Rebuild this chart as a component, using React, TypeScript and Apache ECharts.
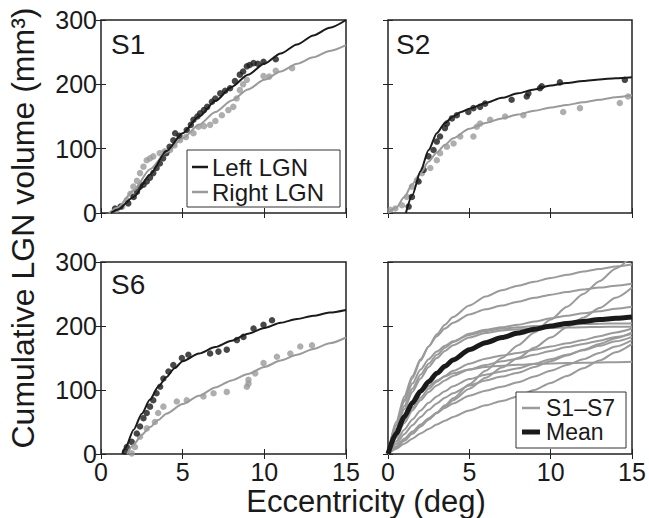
import React, { useEffect, useRef } from "react";
import * as echarts from "echarts";

const FONT = '"Liberation Sans", Arial, Helvetica, sans-serif';
const BLACK = "#1a1a1a";
const GRAY = "#9a9a9a";

// ---------- axis ticks ----------
const X_TICKS = [0, 5, 10, 15];
const Y_TICKS = [0, 100, 200, 300];

// ---------- S1 ----------
const s1LeftFit = [[0.6, 0], [1, 5], [2, 25], [3, 60], [4, 96], [5, 124], [6, 150], [7, 174], [8, 196], [9, 215], [10, 232], [11, 248], [12, 262], [13, 276], [14, 288], [15, 300]];
const s1RightFit = [[0.5, 0], [1, 8], [2, 35], [3, 68], [4, 94], [5, 116], [6, 137], [7, 157], [8, 175], [9, 192], [10, 207], [11, 220], [12, 232], [13, 242], [14, 252], [15, 261]];
const s1LeftPts = [[0.86, 7], [1.2, 10], [1.67, 15], [2.0, 25], [2.2, 33], [2.39, 41], [2.6, 44], [2.8, 49], [3.0, 55], [3.2, 62], [3.4, 70], [3.6, 77], [3.8, 85], [4.0, 93], [4.2, 103], [4.43, 113], [4.54, 124], [4.8, 120], [5.25, 129], [5.5, 137], [5.66, 145], [5.9, 150], [6.07, 155], [6.3, 160], [6.5, 165], [6.79, 173], [7.0, 178], [7.3, 186], [7.6, 190], [7.9, 194], [8.2, 205], [8.5, 215], [8.7, 220], [8.93, 228], [9.1, 230], [9.34, 233], [9.6, 232], [9.95, 235], [10.7, 239]];
const s1RightPts = [[0.96, 5], [1.3, 10], [1.58, 20], [1.8, 30], [1.98, 41], [2.2, 50], [2.39, 62], [2.6, 72], [2.8, 82], [3.0, 85], [3.2, 88], [3.6, 93], [3.9, 96], [4.23, 98], [4.5, 105], [4.84, 113], [5.2, 118], [5.66, 124], [5.97, 134], [6.3, 135], [6.68, 137], [7.0, 143], [7.4, 152], [7.8, 160], [8.1, 165], [8.3, 178], [8.5, 191], [8.7, 200], [8.93, 207], [9.95, 213], [10.3, 212], [10.7, 221], [11.7, 225]];

// ---------- S2 ----------
const s2LeftFit = [[1.1, 0], [1.5, 28], [2, 65], [2.5, 98], [3, 124], [3.5, 140], [4, 150], [4.5, 157], [5, 162], [6, 171], [7, 179], [8, 186], [9, 192], [10, 198], [11, 202], [12, 205], [13, 207.5], [14, 209.5], [15, 211]];
const s2RightFit = [[0, 0], [0.5, 8], [1, 25], [1.5, 45], [2, 62], [2.5, 80], [3, 94], [3.5, 106], [4, 116], [5, 131], [6, 140], [7, 147], [8, 153], [9, 159], [10, 164], [11, 168], [12, 172], [13, 176], [14, 180], [15, 183]];
const s2LeftPts = [[1.27, 10], [1.47, 25], [1.88, 49], [2.19, 67], [2.49, 88], [2.8, 98], [3.0, 111], [3.2, 119], [3.5, 132], [3.62, 139], [3.93, 147], [4.23, 152], [4.94, 157], [5.25, 163], [5.66, 165], [5.97, 170], [7.6, 176], [8.53, 181], [8.63, 186], [9.34, 194], [9.45, 197], [10.57, 203], [14.56, 207]];
const s2RightPts = [[0.14, 5], [0.45, 7], [0.86, 12], [1.16, 25], [1.47, 41], [1.78, 51], [2.09, 62], [2.6, 70], [3.0, 82], [3.2, 93], [3.62, 103], [4.03, 108], [4.44, 119], [5.25, 119], [5.46, 134], [5.66, 139], [6.28, 145], [7.2, 150], [8.32, 152], [10.77, 157], [11.8, 163], [14.25, 171], [14.76, 181]];

// ---------- S6 ----------
const s6LeftFit = [[1.3, 0], [1.5, 10], [2, 38], [2.5, 63], [3, 85], [3.5, 105], [4, 120], [4.5, 134], [5, 145], [6, 157], [7, 167], [8, 177], [9, 188], [10, 197], [11, 205], [12, 211], [13, 216], [14, 221], [15, 225]];
const s6RightFit = [[1.6, 0], [2, 15], [2.5, 30], [3, 42], [3.5, 53], [4, 63], [5, 78], [6, 91], [7, 104], [8, 115], [9, 125], [10, 136], [11, 146], [12, 155], [13, 164], [14, 173], [15, 182]];
const s6LeftPts = [[1.47, 4], [1.58, 11], [1.88, 19], [2.19, 32], [2.39, 43], [2.6, 56], [2.8, 64], [3.0, 74], [3.2, 84], [3.4, 95], [3.62, 105], [3.82, 118], [4.13, 129], [4.43, 139], [4.95, 150], [5.35, 155], [6.68, 157], [7.19, 160], [7.7, 163], [8.32, 178], [8.72, 183], [9.34, 196], [9.95, 202], [10.47, 209]];
const s6RightPts = [[1.88, 1], [2.08, 11], [2.39, 27], [2.8, 40], [3.3, 50], [3.5, 64], [3.82, 74], [4.64, 82], [5.25, 84], [6.27, 90], [6.89, 95], [7.7, 97], [8.93, 105], [9.03, 110], [9.03, 116], [9.44, 126], [9.95, 142], [10.77, 152], [11.59, 157], [12.2, 168], [12.92, 170]];

// ---------- all subjects + mean ----------
const ALL_X = [0, 0.5, 1, 1.5, 2, 2.5, 3, 3.5, 4, 5, 6, 7, 8, 9, 10, 11, 12, 13, 14, 15];
const subjectFits = [
  [0, 45, 85, 118, 146, 168, 187, 202, 214, 232, 246, 256, 263, 269, 275, 280, 285, 289, 293, 296],
  [0, 50, 90, 122, 148, 168, 184, 196, 205, 218, 226, 232, 238, 244, 249, 253, 257, 260, 263, 266],
  [0, 10, 21, 32, 43, 54, 64, 74, 84, 102, 119, 135, 150, 166, 182, 198, 213, 228, 244, 260],
  [0, 10, 21, 32, 43, 54, 65, 76, 87, 109, 130, 150, 170, 190, 210, 230, 250, 270, 290, 310],
  [0, 40, 75, 102, 124, 141, 155, 166, 175, 188, 194, 198, 202, 207, 212, 216, 220, 223, 227, 230],
  [0, 45, 82, 110, 132, 148, 160, 169, 176, 186, 192, 196, 198, 200, 201, 202, 203, 203.5, 204, 204],
  [0, 38, 70, 97, 118, 136, 150, 161, 170, 182, 189, 193, 195, 196, 197, 197.5, 198, 198.5, 199, 199],
  [0, 28, 52, 72, 88, 102, 113, 122, 130, 141, 149, 154, 158, 163, 168, 173, 178, 184, 190, 196],
  [0, 25, 48, 68, 84, 97, 107, 115, 122, 132, 139, 145, 149, 155, 161, 167, 172, 177, 183, 188],
  [0, 20, 38, 54, 68, 80, 90, 98, 106, 117, 124, 129, 134, 141, 148, 155, 162, 169, 176, 183],
  [0, 16, 31, 45, 58, 69, 79, 88, 95, 107, 115, 121, 127, 136, 145, 154, 163, 172, 181, 190],
  [0, 12, 24, 35, 46, 56, 64, 72, 79, 91, 99, 105, 112, 121, 130, 139, 148, 158, 168, 178],
  [0, 8, 16, 24, 32, 39, 46, 52, 58, 68, 76, 83, 90, 100, 111, 122, 134, 146, 159, 172],
  [0, 35, 62, 82, 96, 106, 115, 121, 126, 132, 136, 138, 139.5, 140.5, 141.5, 142, 142.5, 143, 143.5, 144],
];
const meanFit = [0, 32, 58, 80, 98, 113, 126, 137, 147, 163, 174, 182, 189, 195, 200, 204, 207, 210, 212, 214];

const GRIDS = [
  { left: 101, top: 20, width: 245, height: 193 },
  { left: 388, top: 20, width: 244, height: 193 },
  { left: 101, top: 262, width: 245, height: 192 },
  { left: 388, top: 262, width: 244, height: 192 },
];

function zip(xs: number[], ys: number[]) {
  return xs.map((x, i) => [x, ys[i]]);
}

function buildOption() {
  const xAxis: any[] = [];
  const yAxis: any[] = [];
  const tick = { show: true, inside: true, length: 5, lineStyle: { color: "#222", width: 1 } };
  const label = { fontSize: 25, color: "#1a1a1a", fontFamily: FONT };
  GRIDS.forEach((_, g) => {
    const bottomRow = g >= 2;
    const leftCol = g % 2 === 0;
    const xb = { gridIndex: g, type: "value", min: X_TICKS[0], max: X_TICKS[X_TICKS.length - 1], interval: 5, axisLine: { show: false }, splitLine: { show: false }, axisTick: tick };
    xAxis.push({ ...xb, position: "bottom", axisLabel: { ...label, show: bottomRow, margin: 5 } });
    xAxis.push({ ...xb, position: "top", axisLabel: { show: false } });
    const yb = { gridIndex: g, type: "value", min: Y_TICKS[0], max: Y_TICKS[Y_TICKS.length - 1], interval: 100, axisLine: { show: false }, splitLine: { show: false }, axisTick: tick };
    yAxis.push({ ...yb, position: "left", axisLabel: { ...label, show: leftCol, margin: 4 } });
    yAxis.push({ ...yb, position: "right", axisLabel: { show: false } });
  });

  const series: any[] = [];
  const lineS = (g: number, data: any[], color: string, width: number, name?: string) => ({
    type: "line", name, xAxisIndex: 2 * g, yAxisIndex: 2 * g, data, symbol: "none", showSymbol: false,
    smooth: 0.25, smoothMonotone: "x", lineStyle: { color, width }, itemStyle: { color }, silent: true, clip: true,
  });
  const dotS = (g: number, data: any[], color: string) => ({
    type: "scatter", xAxisIndex: 2 * g, yAxisIndex: 2 * g, data, symbolSize: 6.5, itemStyle: { color }, silent: true,
  });
  const panels = [
    [s1LeftFit, s1RightFit, s1LeftPts, s1RightPts],
    [s2LeftFit, s2RightFit, s2LeftPts, s2RightPts],
    [s6LeftFit, s6RightFit, s6LeftPts, s6RightPts],
  ];
  panels.forEach(([lf, rf, lp, rp], i) => {
    series.push(lineS(i, rf, GRAY, 2));
    series.push(dotS(i, rp, GRAY));
    series.push(lineS(i, lf, BLACK, 2));
    series.push(dotS(i, lp, BLACK));
  });
  subjectFits.forEach((ys) => series.push(lineS(3, zip(ALL_X, ys), GRAY, 2)));
  series.push(lineS(3, zip(ALL_X, meanFit), BLACK, 5));

  const txt = (text: string, x: number, y: number, size: number) => ({
    type: "text", x, y,
    style: { text, fontSize: size, fontFamily: FONT, fill: "#1a1a1a", align: "left", verticalAlign: "middle" },
  });

  const graphic: any[] = [
    txt("S1", 111, 44, 28),
    txt("S2", 396, 44, 28),
    txt("S6", 111, 284, 28),
    // legend 1
    { type: "rect", shape: { x: 187, y: 150, width: 153, height: 57 }, style: { fill: "#fff", stroke: "#333", lineWidth: 1 }, z: 10 },
    { type: "line", shape: { x1: 192, y1: 167, x2: 208, y2: 167 }, style: { stroke: BLACK, lineWidth: 2.5 }, z: 11 },
    { type: "line", shape: { x1: 192, y1: 192, x2: 208, y2: 192 }, style: { stroke: GRAY, lineWidth: 2.5 }, z: 11 },
    { ...txt("Left LGN", 212, 167, 24), z: 11 },
    { ...txt("Right LGN", 212, 192, 24), z: 11 },
    // legend 2
    { type: "rect", shape: { x: 516, y: 392, width: 110, height: 56 }, style: { fill: "#fff", stroke: "#333", lineWidth: 1 }, z: 10 },
    { type: "line", shape: { x1: 522, y1: 408, x2: 540, y2: 408 }, style: { stroke: GRAY, lineWidth: 2.5 }, z: 11 },
    { type: "line", shape: { x1: 522, y1: 432, x2: 540, y2: 432 }, style: { stroke: BLACK, lineWidth: 5 }, z: 11 },
    { ...txt("S1\u2013S7", 546, 408, 23), z: 11 },
    { ...txt("Mean", 546, 432, 23), z: 11 },
    // axis titles
    { type: "text", x: 366, y: 501, style: { text: "Eccentricity (deg)", fontSize: 31, fontFamily: FONT, fill: "#1a1a1a", align: "center", verticalAlign: "middle" } },
    { type: "text", x: 23, y: 228, rotation: Math.PI / 2, style: { text: "Cumulative LGN volume (mm\u00b3)", fontSize: 32, fontFamily: FONT, fill: "#1a1a1a", align: "center", verticalAlign: "middle" } },
  ];

  return {
    animation: false,
    backgroundColor: "#ffffff",
    grid: GRIDS.map((g) => ({ ...g, show: true, borderColor: "#222", borderWidth: 1.5, backgroundColor: "transparent" })),
    xAxis,
    yAxis,
    series,
    graphic,
  };
}

export default function App() {
  const ref = useRef<HTMLDivElement>(null);
  useEffect(() => {
    if (!ref.current) return;
    const chart = echarts.init(ref.current, undefined, { renderer: "svg" });
    chart.setOption(buildOption() as any);
    return () => chart.dispose();
  }, []);
  return <div ref={ref} style={{ position: "absolute", left: 0, top: 0, width: 649, height: 518 }} />;
}
